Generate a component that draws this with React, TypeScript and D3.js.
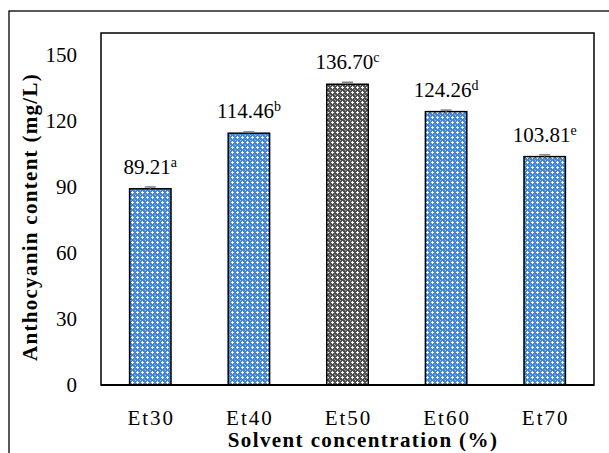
import React from "react";
import * as d3 from "d3";

const categories = ["Et30", "Et40", "Et50", "Et60", "Et70"];
const values = [89.21, 114.46, 136.7, 124.26, 103.81];
const errors = [0.8, 0.6, 0.9, 0.7, 0.8];
const letters = ["a", "b", "c", "d", "e"];
const yTicks = [0, 30, 60, 90, 120, 150];

const width = 609,
  height = 453;
const plot = { left: 101, top: 33, right: 594, bottom: 385 };
const font = "'Liberation Serif', 'Times New Roman', serif";

const App = () => {
  const x = d3
    .scaleBand()
    .domain(categories)
    .range([plot.left, plot.right])
    .paddingInner(0.58)
    .paddingOuter(0.29);
  const y = d3.scaleLinear().domain([0, 160]).range([plot.bottom, plot.top]);

  return (
    <svg
      width={width}
      height={height}
      style={{ position: "absolute", left: 0, top: 0, background: "#fff" }}
      fontFamily={font}
    >
      <defs>
        <pattern id="blueDots" width="5" height="5" patternUnits="userSpaceOnUse">
          <rect width="5" height="5" fill="#4187d6" />
          <rect x="0" y="0" width="1" height="1" fill="#a8c8ef" />
          <rect x="4" y="4" width="1" height="1" fill="#6ea3e2" />
          <rect x="2" y="1" width="1" height="3" fill="#fff" />
          <rect x="1" y="2" width="3" height="1" fill="#fff" />
        </pattern>
        <pattern id="grayDots" width="5" height="5" patternUnits="userSpaceOnUse">
          <rect width="5" height="5" fill="#505050" />
          <rect x="0" y="0" width="1" height="1" fill="#b0b0b0" />
          <rect x="4" y="4" width="1" height="1" fill="#909090" />
          <rect x="2" y="1" width="1" height="3" fill="#fff" />
          <rect x="1" y="2" width="3" height="1" fill="#fff" />
        </pattern>
      </defs>

      {/* chart area border, cropped at right and bottom */}
      <rect x={9} y={11} width={640} height={480} fill="none" stroke="#000" strokeWidth={1.3} />

      {/* plot area */}
      <rect
        x={plot.left}
        y={plot.top}
        width={plot.right - plot.left}
        height={plot.bottom - plot.top}
        fill="none"
        stroke="#000"
        strokeWidth={1.5}
      />

      {yTicks.map((t) => (
        <text
          key={t}
          x={77}
          y={y(t)}
          dy="0.35em"
          textAnchor="end"
          fontSize={21}
          fill="#000"
        >
          {t}
        </text>
      ))}

      {categories.map((c, i) => {
        const bx = x(c) as number;
        const cx = bx + x.bandwidth() / 2;
        const top = y(values[i]);
        return (
          <g key={c}>
            <rect
              x={bx}
              y={top}
              width={x.bandwidth()}
              height={plot.bottom - top}
              fill={i === 2 ? "url(#grayDots)" : "url(#blueDots)"}
              stroke="#000"
              strokeWidth={1.5}
            />
            <line
              x1={cx}
              x2={cx}
              y1={y(values[i] + errors[i])}
              y2={top}
              stroke="#7f7f7f"
              strokeWidth={1.5}
            />
            <line
              x1={cx - 5.5}
              x2={cx + 5.5}
              y1={y(values[i] + errors[i])}
              y2={y(values[i] + errors[i])}
              stroke="#7f7f7f"
              strokeWidth={1.5}
            />
            <text x={cx} y={top - 15} textAnchor="middle" fontSize={21} fill="#000">
              {values[i].toFixed(2)}
              <tspan fontSize={14} dy={-7}>
                {letters[i]}
              </tspan>
            </text>
            <text
              x={cx + 1}
              y={425}
              textAnchor="middle"
              fontSize={21}
              letterSpacing={2}
              fill="#000"
            >
              {c}
            </text>
          </g>
        );
      })}

      {/* baseline */}
      <line x1={plot.left} x2={plot.right} y1={plot.bottom} y2={plot.bottom} stroke="#000" strokeWidth={2} />

      <text
        x={363}
        y={447}
        textAnchor="middle"
        fontSize={21}
        fontWeight="bold"
        letterSpacing={1.4}
        fill="#000"
      >
        Solvent concentration (%)
      </text>
      <text
        transform="translate(37,217) rotate(-90)"
        textAnchor="middle"
        fontSize={21}
        fontWeight="bold"
        letterSpacing={1.3}
        fill="#000"
      >
        Anthocyanin content (mg/L)
      </text>
    </svg>
  );
};

export default App;
